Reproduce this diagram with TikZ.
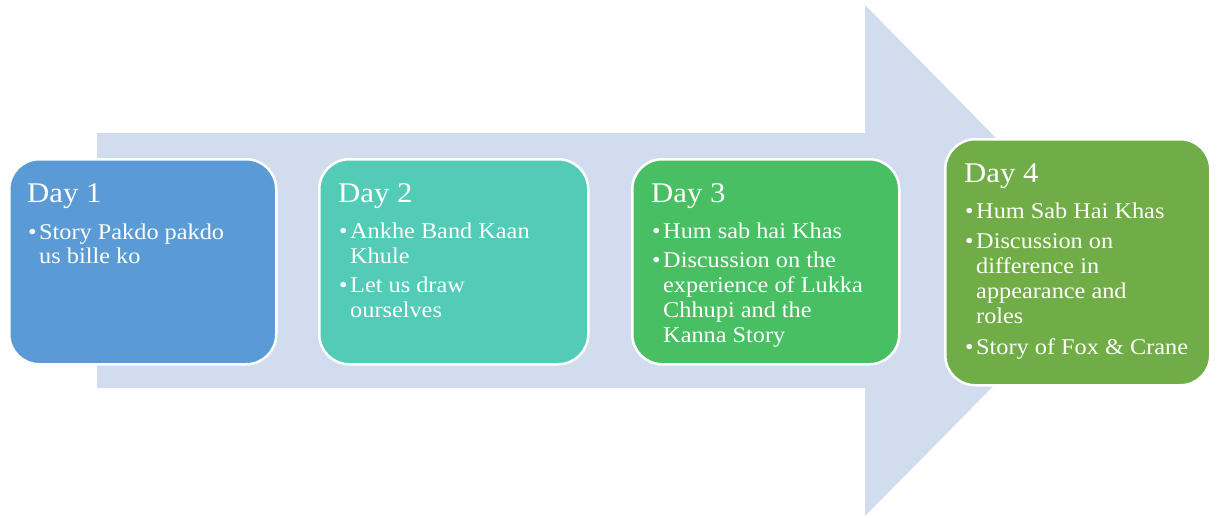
\documentclass[tikz,border=0pt]{standalone}
\usepackage{fontspec}
\setmainfont{Liberation Serif}[FakeStretch=1.08]
\definecolor{arrowc}{RGB}{209,220,239}
\definecolor{dayA}{RGB}{91,155,213}
\definecolor{dayB}{RGB}{82,203,183}
\definecolor{dayC}{RGB}{73,191,99}
\definecolor{dayD}{RGB}{112,173,71}
\tikzset{
  daybox/.style={draw=white, line width=2.5pt, rounded corners=30pt, anchor=north west, inner sep=0pt},
  daytitle/.style={anchor=base west, inner sep=0pt, text=white, font=\fontsize{28.5}{30}\selectfont},
  txt/.style={anchor=base west, inner sep=0pt, text=white, font=\fontsize{22.5}{25}\selectfont},
  bul/.style={anchor=base west, inner sep=0pt, text=white, font=\fontsize{22.5}{25}\selectfont}
}
\begin{document}
\begin{tikzpicture}[x=1pt,y=-1pt]
\useasboundingbox (0,0) rectangle (1229,517);
% big arrow
\fill[arrowc] (97,133) -- (865,133) -- (865,5) -- (1117,261) -- (865,516) -- (865,388) -- (97,388) -- cycle;
% boxes
\node[daybox, fill=dayA, minimum width=267pt, minimum height=205pt] (b1) at (8,158) {};
\node[daybox, fill=dayB, minimum width=269pt, minimum height=205pt] (b2) at (318,158) {};
\node[daybox, fill=dayC, minimum width=267pt, minimum height=205pt] (b3) at (631,158) {};
\node[daybox, fill=dayD, minimum width=265pt, minimum height=246pt] (b4) at (944,138) {};
% Day 1
\node[daytitle] (t1) at (27,202) {Day 1};
\node[bul] (u11) at (28,239) {•};
\node[txt] (l11) at (39,239) {Story Pakdo pakdo};
\node[txt] (l12) at (39,263) {us bille ko};
% Day 2
\node[daytitle] (t2) at (338,202) {Day 2};
\node[bul] (u21) at (339,238) {•};
\node[txt] (l21) at (350,238) {Ankhe Band Kaan};
\node[txt] (l22) at (350,263) {Khule};
\node[bul] (u22) at (339,292) {•};
\node[txt] (l23) at (350,292) {Let us draw};
\node[txt] (l24) at (350,317) {ourselves};
% Day 3
\node[daytitle] (t3) at (651,202) {Day 3};
\node[bul] (u31) at (652,238.5) {•};
\node[txt] (l31) at (663,238.5) {Hum sab hai Khas};
\node[bul] (u32) at (652,267.5) {•};
\node[txt] (l32) at (663,267.5) {Discussion on the};
\node[txt] (l33) at (663,292) {experience of Lukka};
\node[txt] (l34) at (663,317) {Chhupi and the};
\node[txt] (l35) at (663,342) {Kanna Story};
% Day 4
\node[daytitle] (t4) at (964,182) {Day 4};
\node[bul] (u41) at (965,218.5) {•};
\node[txt] (l41) at (976,218.5) {Hum Sab Hai Khas};
\node[bul] (u42) at (965,248.5) {•};
\node[txt] (l42) at (976,248.5) {Discussion on};
\node[txt] (l43) at (976,273) {difference in};
\node[txt] (l44) at (976,298) {appearance and};
\node[txt] (l45) at (976,323) {roles};
\node[bul] (u43) at (965,354) {•};
\node[txt] (l46) at (976,354) {Story of Fox \& Crane};
\end{tikzpicture}
\end{document}
